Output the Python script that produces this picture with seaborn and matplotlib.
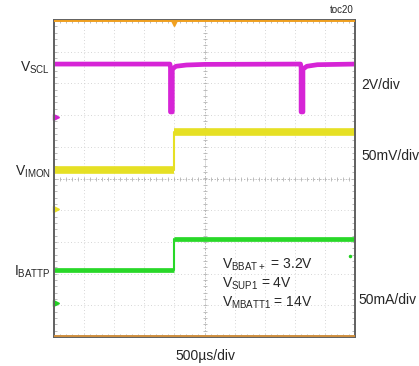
import numpy as np
import pandas as pd
import seaborn as sns
import matplotlib.pyplot as plt

# Scope traces, in divisions (x: 0-10 time divs, y: 0-10 vertical divs)
scl_t = [0.0, 3.85, 3.87, 3.87, 3.93, 3.93, 4.05, 4.4, 5.0, 8.19, 8.21, 8.21, 8.27, 8.27, 8.4, 8.75, 10.0]
scl_v = [8.61, 8.61, 8.50, 7.10, 7.10, 8.45, 8.54, 8.58, 8.60, 8.61, 8.50, 7.10, 7.10, 8.45, 8.54, 8.59, 8.61]

step_time = 3.99
imon_low, imon_high = 5.27, 6.46
batt_low, batt_high = 2.11, 3.09

# ground reference markers on the left edge
markers_y = [6.94, 4.04, 1.07]
marker_colors = ["#d020d0", "#e8e020", "#20d020"]

sns.set_style("white")
plt.rcParams["font.family"] = ["Liberation Sans", "DejaVu Sans"]

fig = plt.figure(figsize=(4.19, 3.66), dpi=100)
ax = fig.add_axes([54 / 419, 29 / 366, 301 / 419, 317 / 366])

# dotted graticule
for k in range(1, 10):
    ax.axvline(k, color="#c8c8c8", lw=0.6, ls=(0, (1, 3)), zorder=0)
    ax.axhline(k, color="#c8c8c8", lw=0.6, ls=(0, (1, 3)), zorder=0)
ax.axvline(5, color="#b4b4b4", lw=0.7, ls=(0, (1, 2)), zorder=0)
ax.axhline(5, color="#b4b4b4", lw=0.7, ls=(0, (1, 2)), zorder=0)
ticks = np.arange(0.2, 10, 0.2)
ax.plot(ticks, [5] * len(ticks), "|", color="#b4b4b4", ms=3, mew=0.6, zorder=0)
ax.plot([5] * len(ticks), ticks, "_", color="#b4b4b4", ms=3, mew=0.6, zorder=0)

sns.lineplot(x=scl_t, y=scl_v, sort=False, color="#d624d6", lw=3.4, ax=ax, estimator=None)

for low, high, col, lw in [(imon_low, imon_high, "#e6e024", 5.5),
                           (batt_low, batt_high, "#28d828", 3.4)]:
    sns.lineplot(x=[0.0, step_time], y=[low, low], color=col, lw=lw, ax=ax,
                 estimator=None, solid_capstyle="butt")
    sns.lineplot(x=[step_time, 10.0], y=[high, high], color=col, lw=lw, ax=ax,
                 estimator=None, solid_capstyle="butt")
    ax.plot([step_time, step_time], [low, high], color=col, lw=1.5)
ax.plot([9.85], [2.55], ".", color="#20d020", ms=3)

for y, c in zip(markers_y, marker_colors):
    ax.plot([0.05], [y], ">", color=c, ms=4, clip_on=False)
ax.plot([4.0], [9.92], "v", color="#f0a020", ms=4, clip_on=False)

ax.set_xlim(0, 10)
ax.set_ylim(0, 10)
ax.set_xticks(np.arange(0, 10.01, 0.2), minor=True)
ax.set_yticks(np.arange(0, 10.01, 0.2), minor=True)
ax.set_xticks([])
ax.set_yticks([])
ax.tick_params(which="minor", direction="in", length=2.5, width=0.6, color="#b0b0b0",
               top=True, right=True, bottom=True, left=True, labelbottom=False, labelleft=False)
for s in ax.spines.values():
    s.set_color("#606060")
    s.set_linewidth(1.4)
ax.axhline(9.97, color="#f0a020", lw=1.4, zorder=5)
ax.axhline(0.03, color="#d09040", lw=1.4, zorder=5)

def tr(x, y, s, **kw):
    fig.text(x / 419, 1 - y / 366, s, fontsize=10, va="center", **kw)

tr(20, 68, r"V$_{\mathregular{SCL}}$")
tr(361, 85, "2V/div")
tr(15, 172, r"V$_{\mathregular{IMON}}$")
tr(361, 156, "50mV/div")
tr(14, 272, r"I$_{\mathregular{BATTP}}$")
tr(358, 300, "50mA/div")
tr(205, 356, "500µs/div", ha="center")
fig.text(354 / 419, 1 - 10 / 366, "toc20", fontsize=7, ha="right", va="center")
tr(222, 265, r"V$_{\mathregular{BBAT+}}$ = 3.2V")
tr(222, 284, r"V$_{\mathregular{SUP1}}$ = 4V")
tr(222, 303, r"V$_{\mathregular{MBATT1}}$ = 14V")

fig.savefig("out.png", dpi=100)
